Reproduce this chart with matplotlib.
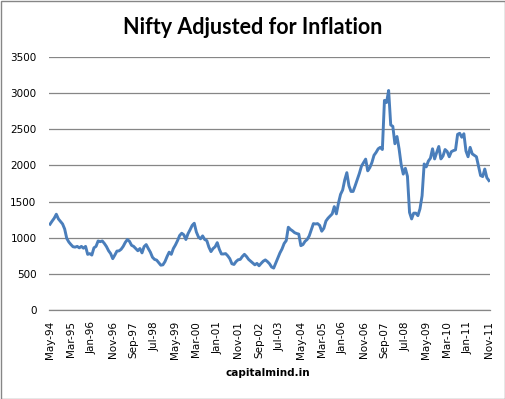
import numpy as np
import pandas as pd
import matplotlib
matplotlib.use('Agg')
import matplotlib.pyplot as plt
from matplotlib.patches import Rectangle

# Monthly Nifty values adjusted for inflation, May-94 .. Nov-11
months = pd.date_range('1994-05-01', '2011-11-01', freq='MS')
nifty_real = [
    1187, 1230, 1270, 1325, 1260, 1225, 1190, 1120, 990, 940,
    905, 875, 870, 880, 860, 880, 855, 880, 770, 780,
    760, 860, 880, 955, 945, 955, 920, 877, 820, 780,
    710, 760, 815, 818, 840, 880, 935, 975, 950, 895,
    880, 850, 820, 850, 790, 877, 905, 850, 800, 730,
    700, 690, 655, 620, 625, 670, 740, 800, 770, 850,
    900, 960, 1030, 1062, 1040, 975, 1055, 1110, 1170, 1200,
    1080, 1010, 985, 1025, 975, 960, 870, 808, 850, 875,
    932, 840, 775, 775, 780, 750, 710, 640, 630, 670,
    695, 700, 740, 770, 740, 700, 675, 650, 625, 645,
    612, 645, 675, 693, 670, 640, 595, 580, 650, 720,
    790, 845, 920, 960, 1145, 1115, 1095, 1070, 1058, 1050,
    890, 905, 950, 975, 1025, 1110, 1195, 1190, 1195, 1170,
    1090, 1130, 1230, 1270, 1300, 1330, 1430, 1330, 1480, 1600,
    1660, 1800, 1900, 1720, 1640, 1640, 1720, 1805, 1890, 1990,
    2040, 2087, 1925, 1970, 2040, 2140, 2180, 2230, 2250, 2220,
    2900, 2870, 3037, 2560, 2540, 2300, 2400, 2230, 2010, 1880,
    1960, 1850, 1350, 1260, 1340, 1340, 1305, 1400, 1580, 2020,
    1980, 2060, 2100, 2230, 2090, 2180, 2262, 2090, 2130, 2220,
    2193, 2120, 2190, 2205, 2215, 2430, 2445, 2390, 2438, 2200,
    2120, 2250, 2160, 2140, 2120, 1990, 1860, 1846, 1950, 1830,
    1790,
]
month_labels = [m.strftime('%b-%y') for m in months]
y_ticks = [0, 500, 1000, 1500, 2000, 2500, 3000, 3500]

grid_col = '#868686'
line_col = '#4a7ebb'

fig = plt.figure(figsize=(5.06, 3.99), dpi=100)
ax = fig.add_axes([49 / 506, 1 - 310 / 399, (490 - 49) / 506, (310 - 57) / 399])

x = np.arange(len(nifty_real))
ax.plot(x, nifty_real, color=line_col, linewidth=2.1, solid_joinstyle='round')

ax.set_xlim(-0.5, len(nifty_real) - 0.5)
ax.set_ylim(0, 3500)
ax.set_yticks(y_ticks)
ax.set_yticklabels([str(v) for v in y_ticks])
ax.yaxis.grid(True, color=grid_col, linewidth=0.9)
ax.set_axisbelow(True)

ax.set_xticks(x[::10])
ax.set_xticklabels(month_labels[::10], rotation=90)

for s in ['top', 'right', 'left']:
    ax.spines[s].set_visible(False)
ax.spines['bottom'].set_color(grid_col)
ax.spines['bottom'].set_linewidth(0.9)
ax.tick_params(axis='y', length=0, pad=9, labelsize=7.5)
ax.tick_params(axis='x', length=0, pad=8, labelsize=7.5)

fig.text(0.5, 1 - 27 / 399, 'Nifty Adjusted for Inflation', ha='center', va='center',
         fontsize=15.5, fontweight='bold', family='Lato')
fig.text(268 / 506, 1 - 373 / 399, 'capitalmind.in', ha='center', va='center',
         fontsize=7.5, fontweight='bold')

# outer chart border
fig.patches.append(Rectangle((0.001, 0.001), 0.997, 0.997, transform=fig.transFigure,
                             fill=False, edgecolor='#868686', linewidth=1))

fig.savefig('out.png', dpi=100)
